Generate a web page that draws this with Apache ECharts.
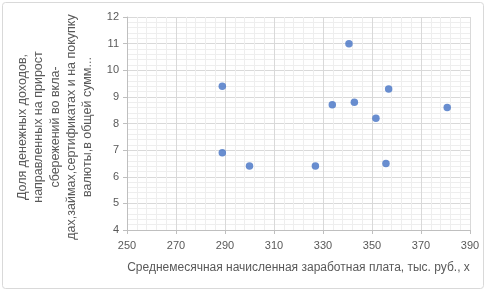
<!DOCTYPE html>
<html><head><meta charset="utf-8">
<script src="https://cdn.jsdelivr.net/npm/echarts@6/dist/echarts.min.js"></script>
<style>html,body{margin:0;padding:0;background:#fff}#c{width:492px;height:296px}</style>
</head><body><div id="c"></div>
<script>
const xValues = [288.9, 288.9, 300, 326.9, 333.8, 340.6, 342.8, 351.6, 355.7, 356.8, 380.7];
const yValues = [9.4, 6.9, 6.4, 6.4, 8.7, 11.0, 8.8, 8.2, 6.5, 9.3, 8.6];
const xTitle = 'Среднемесячная начисленная заработная плата, тыс. руб., x';
const yTitleLines = ['Доля денежных доходов,', 'направленных на прирост', 'сбережений во вкла-', 'дах,займах,сертификатах и на покупку', 'валюты,в общей сумм...'];

const pts = xValues.map((x, i) => [x, yValues[i]]);
const FONT = 'Liberation Sans';
const chart = echarts.init(document.getElementById('c'), null, {renderer: 'canvas'});
chart.setOption({
  animation: false,
  backgroundColor: '#fff',
  textStyle: {fontFamily: FONT},
  grid: {left: 127, right: 22, top: 17, bottom: 66, containLabel: false},
  xAxis: {
    type: 'value', min: 250, max: 390, interval: 20,
    name: xTitle, nameLocation: 'middle', nameGap: 32,
    nameTextStyle: {color: '#595959', fontSize: 12, fontFamily: FONT},
    axisLine: {show: true, lineStyle: {color: '#bfbfbf'}},
    axisTick: {show: true, length: 4, lineStyle: {color: '#bfbfbf'}},
    axisLabel: {color: '#595959', fontSize: 11, margin: 10, fontFamily: FONT},
    splitLine: {show: true, lineStyle: {color: '#d9d9d9'}},
    minorTick: {show: false, splitNumber: 5},
    minorSplitLine: {show: true, lineStyle: {color: '#eeeeee'}}
  },
  yAxis: {
    type: 'value', min: 4, max: 12, interval: 1,
    name: yTitleLines.join('\n'), nameLocation: 'middle', nameRotate: 90, nameGap: 17,
    nameTextStyle: {color: '#595959', fontSize: 12.5, fontFamily: FONT, lineHeight: 16.3,
                    align: 'center', padding: [0, 7, 0, 0]},
    axisLine: {show: true, lineStyle: {color: '#bfbfbf'}},
    axisTick: {show: true, length: 4, lineStyle: {color: '#bfbfbf'}},
    axisLabel: {color: '#595959', fontSize: 11, margin: 8, fontFamily: FONT},
    splitLine: {show: true, lineStyle: {color: '#d9d9d9'}},
    minorTick: {show: false, splitNumber: 5},
    minorSplitLine: {show: true, lineStyle: {color: '#eeeeee'}}
  },
  series: [{
    type: 'scatter', data: pts, symbolSize: 7.5,
    itemStyle: {color: '#4472C4'}
  }],
  graphic: [
    {type: 'rect', shape: {x: 2.5, y: 2.5, width: 481, height: 286, r: 3},
     style: {fill: 'none', stroke: '#d9d9d9', lineWidth: 1}, z: -1}
  ]
});
</script></body></html>
